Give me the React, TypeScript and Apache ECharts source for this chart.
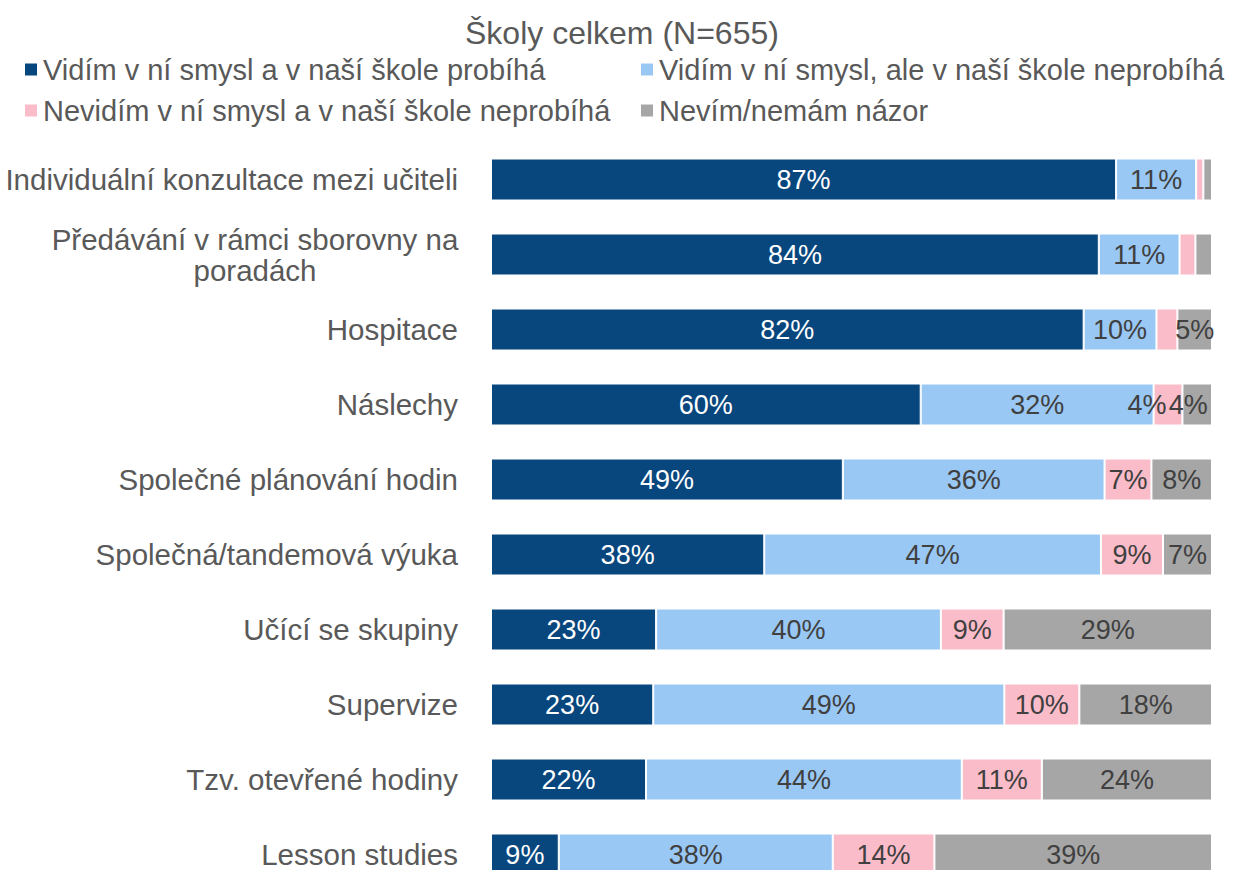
import React, { useEffect, useRef } from "react";
import * as echarts from "echarts";

const titleText = "Školy celkem (N=655)";
const categories = [
  "Individuální konzultace mezi učiteli",
  "Předávání v rámci sborovny na poradách",
  "Hospitace",
  "Náslechy",
  "Společné plánování hodin",
  "Společná/tandemová výuka",
  "Učící se skupiny",
  "Supervize",
  "Tzv. otevřené hodiny",
  "Lesson studies",
];
const seriesNames = [
  "Vidím v ní smysl a v naší škole probíhá",
  "Vidím v ní smysl, ale v naší škole neprobíhá",
  "Nevidím v ní smysl a v naší škole neprobíhá",
  "Nevím/nemám názor",
];
const probiha = [86.7, 84.3, 82.2, 59.6, 48.8, 37.9, 22.9, 22.5, 21.5, 9.4];
const neprobiha = [11.1, 11.2, 10.1, 32.3, 36.3, 46.7, 39.5, 48.7, 43.8, 38.0];
const nevidim = [1.0, 2.2, 2.9, 4.0, 6.5, 8.6, 8.7, 10.4, 11.1, 14.1];
const nevim = [1.2, 2.3, 4.8, 4.1, 8.4, 6.8, 28.9, 18.4, 23.6, 38.5];

const colors = ["#08467E", "#9AC8F5", "#FBBCCA", "#A6A6A6"];
const labelColors = ["#FFFFFF", "#404040", "#404040", "#404040"];
const FONT = "'Liberation Sans', Arial, sans-serif";

// label nudges for crowded narrow segments (series index -> category index -> x offset)
const labelNudges: Record<number, Record<number, number>> = {
  2: { 3: -21 },
  3: { 3: -9 },
};

export default function App() {
  const ref = useRef<HTMLDivElement>(null);
  useEffect(() => {
    if (!ref.current) return;
    const chart = echarts.init(ref.current, undefined, { renderer: "svg" });
    const values = [probiha, neprobiha, nevidim, nevim];
    const legendText = { fontFamily: FONT, fontSize: 29, lineHeight: 29, color: "#595959" };
    chart.setOption({
      animation: false,
      title: {
        text: titleText,
        left: 460,
        top: 12,
        textStyle: { fontFamily: FONT, fontSize: 32, fontWeight: "normal", color: "#595959" },
      },
      legend: [
        {
          orient: "vertical",
          left: 18,
          top: 50,
          itemWidth: 14,
          itemHeight: 14,
          itemGap: 12,
          icon: "rect",
          data: [seriesNames[0], seriesNames[2]],
          textStyle: legendText,
        },
        {
          orient: "vertical",
          left: 634,
          top: 50,
          itemWidth: 14,
          itemHeight: 14,
          itemGap: 12,
          icon: "rect",
          data: [seriesNames[1], seriesNames[3]],
          textStyle: legendText,
        },
      ],
      grid: { left: 491, right: 21, top: 142, height: 750, containLabel: false },
      xAxis: { type: "value", min: 0, max: 100, show: false },
      yAxis: {
        type: "category",
        inverse: true,
        data: categories,
        axisLine: { show: false },
        axisTick: { show: false },
        axisLabel: {
          margin: 33,
          fontFamily: FONT,
          fontSize: 29.5,
          lineHeight: 31,
          color: "#595959",
          formatter: (v: string) =>
            v === "Předávání v rámci sborovny na poradách"
              ? "{c|Předávání v rámci sborovny na}\n{c|poradách}"
              : v,
          rich: {
            c: {
              width: 406,
              align: "center",
              fontFamily: FONT,
              fontSize: 29.5,
              lineHeight: 31,
              color: "#595959",
            },
          },
        },
      },
      series: seriesNames.map((name, i) => ({
        name,
        type: "bar",
        stack: "total",
        barWidth: 42,
        data: values[i].map((v, j) =>
          labelNudges[i] && labelNudges[i][j] !== undefined
            ? { value: v, label: { offset: [labelNudges[i][j], 0] } }
            : v
        ),
        itemStyle: { color: colors[i], borderColor: "#FFFFFF", borderWidth: 1 },
        label: {
          show: true,
          position: "inside",
          fontFamily: FONT,
          fontSize: 27,
          color: labelColors[i],
          formatter: (p: any) => (p.value < 3.5 ? "" : Math.round(p.value) + "%"),
        },
      })),
    });
    return () => chart.dispose();
  }, []);
  return (
    <div
      style={{
        position: "fixed",
        left: 0,
        top: 0,
        width: 1233,
        height: 870,
        overflow: "hidden",
        background: "#fff",
      }}
    >
      <div ref={ref} style={{ width: 1233, height: 900 }} />
    </div>
  );
}
